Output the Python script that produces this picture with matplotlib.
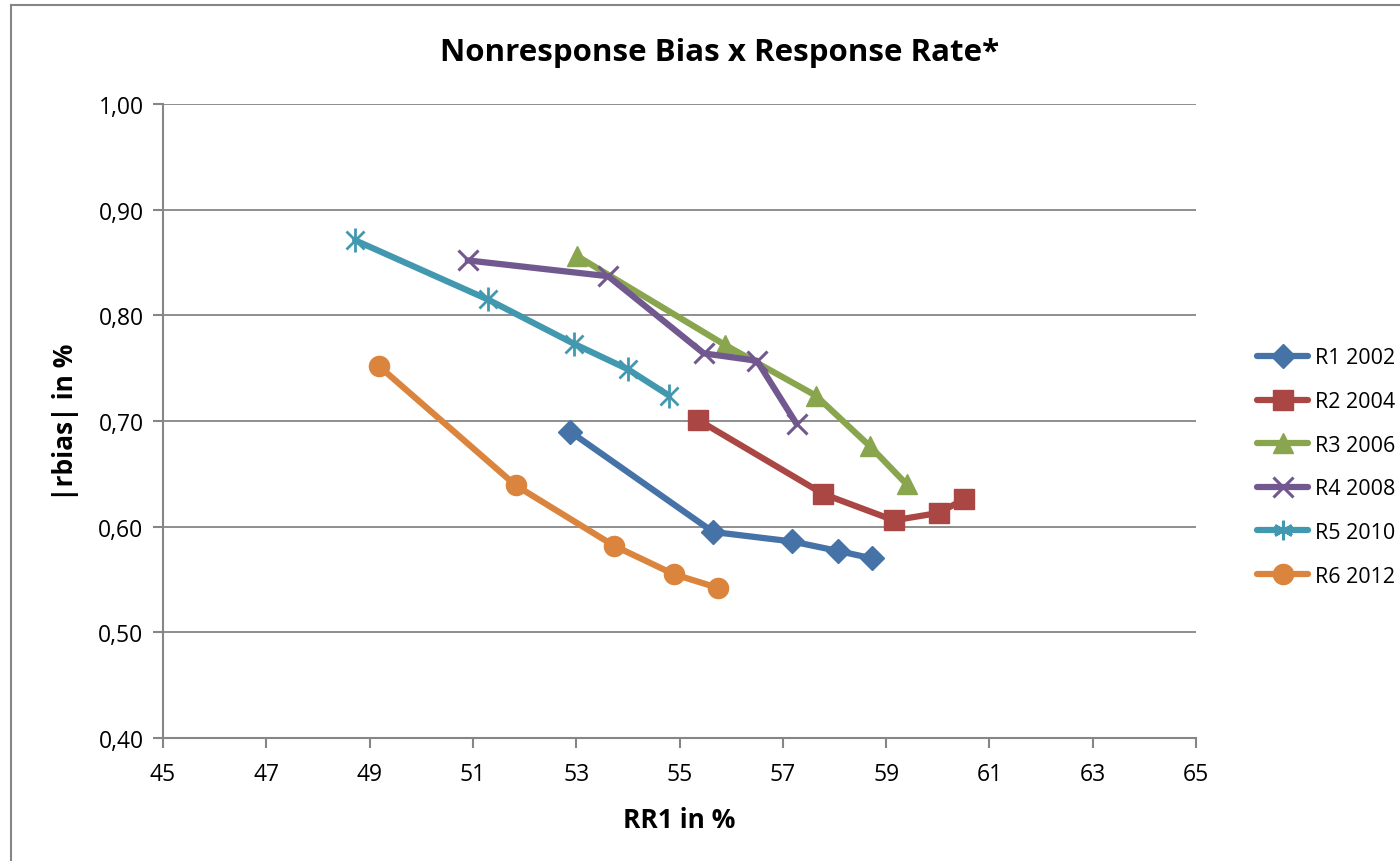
import matplotlib
matplotlib.use("Agg")
import matplotlib.pyplot as plt
from matplotlib.lines import Line2D

plt.rcParams['font.family'] = ['Open Sans', 'DejaVu Sans']

title = "Nonresponse Bias x Response Rate*"
xlabel = "RR1 in %"
ylabel = "|rbias| in %"

labels = ["R1 2002", "R2 2004", "R3 2006", "R4 2008", "R5 2010", "R6 2012"]

r1_x = [52.88, 55.65, 57.18, 58.07, 58.73]
r1_y = [0.690, 0.595, 0.586, 0.577, 0.570]
r2_x = [55.36, 57.78, 59.15, 60.02, 60.51]
r2_y = [0.701, 0.631, 0.606, 0.613, 0.626]
r3_x = [53.02, 55.88, 57.64, 58.69, 59.40]
r3_y = [0.856, 0.772, 0.724, 0.676, 0.640]
r4_x = [50.90, 53.62, 55.47, 56.50, 57.27]
r4_y = [0.852, 0.837, 0.764, 0.757, 0.697]
r5_x = [48.72, 51.29, 52.96, 54.00, 54.80]
r5_y = [0.871, 0.815, 0.773, 0.749, 0.724]
r6_x = [49.18, 51.83, 53.73, 54.89, 55.75]
r6_y = [0.752, 0.639, 0.582, 0.555, 0.542]

xs = [r1_x, r2_x, r3_x, r4_x, r5_x, r6_x]
ys = [r1_y, r2_y, r3_y, r4_y, r5_y, r6_y]

colors = ["#4572A7", "#AA4643", "#89A54E", "#71588F", "#4198AF", "#DB843D"]
markers = ["D", "s", "^", "x", "*", "o"]

x_ticks = list(range(45, 66, 2))
y_ticks = [0.40, 0.50, 0.60, 0.70, 0.80, 0.90, 1.00]

fig = plt.figure(figsize=(14, 8.62), dpi=100)
ax = fig.add_axes([163/1400, 1-739/862, (1196-163)/1400, (739-105)/862])

sizes = {"D": 12, "s": 14, "^": 15, "o": 14.5}

for i in range(6):
    m = markers[i]
    if m == "x":
        ax.plot(xs[i], ys[i], color=colors[i], lw=4.5, marker="x", ms=14, mew=2.2, solid_capstyle='round', zorder=3)
    elif m == "*":
        ax.plot(xs[i], ys[i], color=colors[i], lw=4.5, zorder=3, solid_capstyle='round')
        ax.plot(xs[i], ys[i], ls='none', color=colors[i], marker="x", ms=13, mew=2.0, zorder=4)
        ax.plot(xs[i], ys[i], ls='none', color=colors[i], marker="|", ms=17, mew=2.0, zorder=4)
    else:
        ax.plot(xs[i], ys[i], color=colors[i], lw=4.5, marker=m, ms=sizes[m], mec=colors[i], solid_capstyle='round', zorder=3)

ax.set_xlim(45, 65)
ax.set_ylim(0.40, 1.00)
ax.set_xticks(x_ticks)
ax.set_yticks(y_ticks)
ax.set_yticklabels([f"{v:.2f}".replace(".", ",") for v in y_ticks])
ax.tick_params(axis='both', labelsize=16.5, color="#868686", length=7, width=1.5, direction='out')
ax.tick_params(axis='x', pad=10)
ax.tick_params(axis='y', pad=7)
ax.grid(axis='y', color="#868686", lw=1.3)
ax.set_axisbelow(True)
for s in ['top', 'right']:
    ax.spines[s].set_visible(False)
for s in ['left', 'bottom']:
    ax.spines[s].set_color("#868686")
    ax.spines[s].set_linewidth(1.5)

ax.set_xlabel(xlabel, fontsize=19, fontweight='bold', labelpad=15)
ax.set_ylabel(ylabel, fontsize=19, fontweight='bold', labelpad=14)
fig.text(720/1400, 1-53/862, title, ha='center', va='center', fontsize=22.5, fontweight='bold')

handles = []
for i in range(6):
    m = markers[i]
    if m in ("x", "*"):
        h = Line2D([], [], color=colors[i], lw=4.5, marker="x" if m == "x" else (6, 2, 0), ms=14, mew=2.2, solid_capstyle='round')
    else:
        h = Line2D([], [], color=colors[i], lw=4.5, marker=m, ms=sizes[m], solid_capstyle='round')
    handles.append(h)
leg = fig.legend(handles, labels, loc='center left', bbox_to_anchor=(1246/1400, 1-468/862),
                 frameon=False, fontsize=15.5, handlelength=2.4, handletextpad=0.3,
                 labelspacing=1.05, borderpad=0)

# outer chart border (extends beyond the right and bottom edges)
fig.add_artist(Line2D([11/1400, 11/1400], [0, 1-6/862], color="#868686", lw=1.5, transform=fig.transFigure))
fig.add_artist(Line2D([11/1400, 1], [1-6/862, 1-6/862], color="#868686", lw=1.5, transform=fig.transFigure))

fig.savefig("out.png", dpi=100)
